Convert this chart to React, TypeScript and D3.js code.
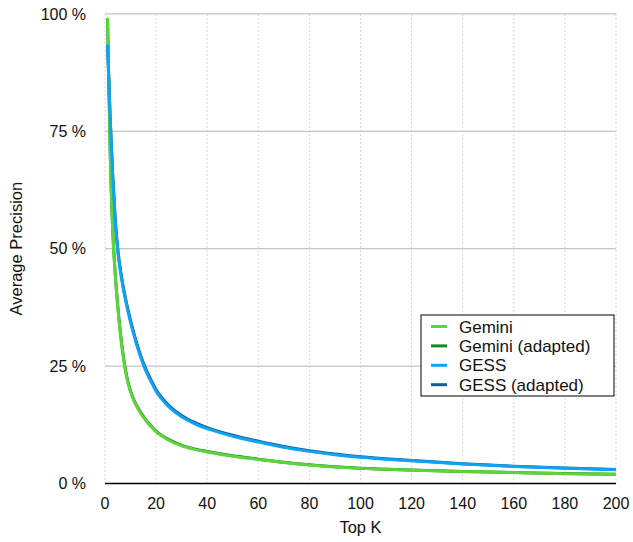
import React from "react";
import * as d3 from "d3";

const topK = [1, 2, 3, 4, 5, 6, 7, 8, 9, 10, 11, 12, 13, 14, 15, 16, 17, 18, 20, 22, 25, 30, 35, 40, 50, 60, 70, 80, 90, 100, 120, 140, 160, 180, 200];

const gemini = [99.2, 71, 54, 44.5, 37.5, 32, 27.5, 24, 21.4, 19.5, 18.0, 16.8, 15.8, 14.9, 14.1, 13.4, 12.7, 12.1, 11.0, 10.2, 9.2, 8.0, 7.25, 6.7, 5.8, 5.1, 4.45, 3.9, 3.5, 3.2, 2.82, 2.52, 2.3, 2.08, 1.93];
const geminiAdapted = [99.0, 71.3, 54.3, 44.8, 37.8, 32.3, 27.8, 24.3, 21.6, 19.7, 18.2, 17.0, 16.0, 15.1, 14.3, 13.55, 12.85, 12.25, 11.15, 10.32, 9.32, 8.1, 7.35, 6.8, 5.88, 5.17, 4.5, 3.95, 3.55, 3.25, 2.86, 2.55, 2.33, 2.11, 1.96];
const gess = [93.5, 78, 65.5, 56, 49.5, 45.3, 41.9, 39.1, 36.6, 34.3, 32.2, 30.25, 28.45, 26.8, 25.3, 23.95, 22.75, 21.7, 19.6, 18.1, 16.3, 14.2, 12.75, 11.65, 10.05, 8.82, 7.72, 6.82, 6.12, 5.55, 4.8, 4.12, 3.6, 3.22, 2.9];
const gessAdapted = [93.2, 78.3, 65.9, 56.4, 49.9, 45.7, 42.3, 39.5, 37.0, 34.7, 32.6, 30.65, 28.85, 27.2, 25.7, 24.35, 23.15, 22.05, 19.95, 18.4, 16.6, 14.45, 12.98, 11.88, 10.25, 9.0, 7.87, 6.95, 6.24, 5.66, 4.9, 4.2, 3.67, 3.28, 2.95];

const seriesNames = ["Gemini", "Gemini (adapted)", "GESS", "GESS (adapted)"];
const seriesColors = ["#5cd43a", "#168a20", "#0fa3f5", "#175c8c"];

const xTicks = [0, 20, 40, 60, 80, 100, 120, 140, 160, 180, 200];
const yTicks = [0, 25, 50, 75, 100];

const W = 633;
const H = 542;
const FONT = "'Liberation Sans', Arial, Helvetica, sans-serif";

export default function App() {
  const left = 105, right = 616, top = 13.9, bottom = 483.4;
  const x = d3.scaleLinear().domain([0, 200]).range([left, right]);
  const y = d3.scaleLinear().domain([0, 100]).range([bottom, top]);

  const line = d3
    .line<number>()
    .x((_, i) => x(topK[i]))
    .y((d) => y(d))
    .curve(d3.curveMonotoneX);

  const data = [gemini, geminiAdapted, gess, gessAdapted];
  const drawOrder = [1, 3, 0, 2];

  const legendX = 421, legendY = 315, legendW = 193, legendH = 81;

  return (
    <svg width={W} height={H} style={{ position: "absolute", left: 0, top: 0 }}>
      <rect width={W} height={H} fill="#fff" />
      {xTicks.map((t) => (
        <line key={"vx" + t} x1={x(t)} x2={x(t)} y1={top} y2={bottom} stroke="#d8d8d8" strokeWidth={1} strokeDasharray="2,2" />
      ))}
      {yTicks.filter((t) => t > 0).map((t) => (
        <line key={"hy" + t} x1={left} x2={right} y1={y(t)} y2={y(t)} stroke="#c4c4c4" strokeWidth={1.2} />
      ))}
      {drawOrder.map((si) => (
        <path key={"s" + si} d={line(data[si]) || ""} fill="none" stroke={seriesColors[si]} strokeWidth={3} strokeLinejoin="round" />
      ))}
      <line x1={left} x2={right} y1={bottom} y2={bottom} stroke="#000" strokeWidth={1.5} />
      {yTicks.map((t) => (
        <text key={"yl" + t} x={86} y={y(t)} dy="0.36em" textAnchor="end" fontFamily={FONT} fontSize={16} fill="#111">
          {t} %
        </text>
      ))}
      {xTicks.map((t) => (
        <text key={"xl" + t} x={x(t)} y={509} textAnchor="middle" fontFamily={FONT} fontSize={16} fill="#111">
          {t}
        </text>
      ))}
      <text x={(left + right) / 2} y={533} textAnchor="middle" fontFamily={FONT} fontSize={16.5} fill="#111">
        Top K
      </text>
      <text transform={`translate(22,${(top + bottom) / 2}) rotate(-90)`} textAnchor="middle" fontFamily={FONT} fontSize={16.5} fill="#111">
        Average Precision
      </text>
      <rect x={legendX} y={legendY} width={legendW} height={legendH} fill="#fff" stroke="#000" strokeWidth={1} />
      {seriesNames.map((n, i) => {
        const cy = legendY + 11.5 + i * 19.4;
        return (
          <g key={"lg" + i}>
            <line x1={431} x2={447} y1={cy} y2={cy} stroke={seriesColors[i]} strokeWidth={3} />
            <text x={459} y={cy} dy="0.36em" fontFamily={FONT} fontSize={17} fill="#111">
              {n}
            </text>
          </g>
        );
      })}
    </svg>
  );
}
